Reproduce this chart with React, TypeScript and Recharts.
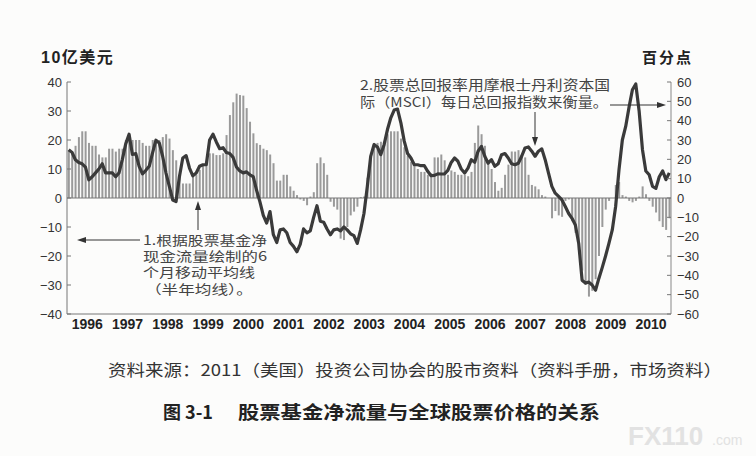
import React from 'react';
import { ComposedChart, Bar, Line, XAxis, YAxis, ReferenceLine } from 'recharts';

// 1996-01 .. 2010-12, one value per month
const years = [1996, 1997, 1998, 1999, 2000, 2001, 2002, 2003, 2004, 2005, 2006, 2007, 2008, 2009, 2010];

// equity fund net flows, 6-month moving average (10亿美元, left axis)
const fundFlows = [
  16.5, 16, 18, 21, 23, 23, 19, 18, 18, 15, 14, 14,
  17, 17, 16, 17, 17, 20, 20, 20, 20, 20, 19, 18,
  18, 20, 20, 20, 21, 22, 20.5, 16.5, 13, 8, 5, 5,
  5, 7.4, 8, 9.7, 11.4, 12, 15.4, 15.4, 14.8, 14.8, 15.4, 21.7,
  28.6, 33, 36, 35.5, 35.3, 31, 26.3, 22.3, 18.9, 18.3, 17, 16.5,
  15, 12, 6, 6, 8, 8, 4, 2.5, 1, -0.5, -1, -2.5,
  0.5, 2, 12, 14, 12, 8, -1.3, -3, -4, -14, -14.5, -10,
  -6, -4.7, -3, 0.3, 0.5, 7, 14, 19, 19, 19.4, 19.4, 22,
  23, 23, 23, 20.5, 17.5, 14.5, 12.5, 11, 10, 9, 9, 8,
  8.5, 14, 14, 15, 13, 8, 9.5, 9, 8, 8, 8, 7.5,
  9, 19, 25, 22, 18, 13, 10, 5.5, 2.5, 3.5, 8, 11.5,
  16, 16, 16.5, 15, 14, 8, 4.5, 4, 3, 1, 0.5, 0,
  -7, -4.5, -6, -6.5, -1, -0.5, -8, -12, -18, -25, -30, -34,
  -32, -28, -20, -10, -4, -1, 0, 4.5, 5.5, 1, 0.5, -1,
  -1.5, -1, 0.5, 4, 1.3, -1, -3, -5, -8, -10, -11, -7,
];

// MSCI total return, year over year (百分点, right axis)
const stockReturns = [
  25, 23.6, 19.8, 18.4, 17.7, 16, 9.4, 11, 13, 15, 17.7, 13,
  13, 13, 11, 13, 20, 28, 33, 22.5, 23, 16.4, 12.5, 14.3,
  16.4, 23.3, 29.9, 28.5, 21.6, 12.9, 6, -1, -1.8, 11, 20.7, 21.9,
  15.5, 11.5, 12.9, 16.4, 17.2, 17.2, 30, 33, 29, 25.5, 26, 23.5,
  23, 21, 16, 14, 13, 13.5, 12, 11, 4, -2, -9, -13,
  -7, -19, -23, -16.5, -16, -18, -23, -25, -27.8, -24, -16, -18,
  -17, -10, -4, -12, -12.5, -16, -19, -16.5, -16, -17, -15, -16.5,
  -18.5, -19.5, -23.5, -16.5, -8, 6, 21.5, 27.6, 26.4, 22.4, 27.6, 35.4,
  41.5, 45.5, 46, 38.9, 29.4, 23, 20.7, 17.2, 17.2, 16.7, 16.7, 13.8,
  11.5, 11.7, 12.5, 12.4, 12.5, 14.3, 18.4, 20.7, 19, 15, 12.9, 15.5,
  19.8, 18.5, 24.2, 26.7, 21.6, 18, 19.8, 16.4, 17.7, 22.4, 23, 20.7,
  17.7, 17.2, 18, 21.6, 25.9, 26.4, 24.2, 21.6, 24.2, 25.4, 19.8, 12.9,
  6, 2.5, 0.8, -1, -4.4, -8, -10.5, -14, -23.5, -42.5, -44, -43.5,
  -45, -47.7, -41.6, -36, -30, -23.5, -16.5, -4.4, 14.6, 30, 37, 47,
  56, 59, 45, 25, 14, 12, 6, 5, 11, 14, 9.5, 13,
];

const leftTicks = [-40, -30, -20, -10, 0, 10, 20, 30, 40];
const rightTicks = [-60, -50, -40, -30, -20, -10, 0, 10, 20, 30, 40, 50, 60];

const data = years.flatMap((y, yi) =>
  Array.from({ length: 12 }, (_, mi) => ({
    m: `${y}-${String(mi + 1).padStart(2, '0')}`,
    flow: fundFlows[yi * 12 + mi],
    ret: stockReturns[yi * 12 + mi],
  }))
);

const SANS = "'Liberation Sans', Arial, 'Noto Sans CJK SC', sans-serif";
const CJK = "'Noto Sans CJK SC', 'Liberation Sans', sans-serif";

const fmt = (v: number) => (v < 0 ? '\u2212' + Math.abs(v) : String(v));

function LeftTick({ x, y, payload }: any) {
  return (
    <g>
      <line x1={x} x2={x + 4} y1={y} y2={y} stroke="#777" />
      <text x={x - 5} y={y} dy={4.5} textAnchor="end" fontSize={13} fill="#333" fontFamily={SANS}>
        {fmt(payload.value)}
      </text>
    </g>
  );
}

function RightTick({ x, y, payload }: any) {
  return (
    <g>
      <line x1={x - 4} x2={x} y1={y} y2={y} stroke="#777" />
      <text x={x + 6} y={y} dy={4.5} textAnchor="start" fontSize={13} fill="#333" fontFamily={SANS}>
        {fmt(payload.value)}
      </text>
    </g>
  );
}

function YearTick({ x, y, payload }: any) {
  if (!String(payload.value).endsWith('-07')) return null;
  return (
    <text x={x - 1.5} y={y} dy={10} textAnchor="middle" fontSize={14} fontWeight="bold" fill="#222" fontFamily={SANS}>
      {String(payload.value).slice(0, 4)}
    </text>
  );
}

function Arrow({ x1, y1, x2, y2 }: { x1: number; y1: number; x2: number; y2: number }) {
  const a = Math.atan2(y2 - y1, x2 - x1);
  const len = 9;
  const w = 3;
  const bx = x2 - len * Math.cos(a);
  const by = y2 - len * Math.sin(a);
  const px = -Math.sin(a) * w;
  const py = Math.cos(a) * w;
  return (
    <g>
      <line x1={x1} y1={y1} x2={bx} y2={by} stroke="#333" strokeWidth={1} />
      <polygon points={`${x2},${y2} ${bx + px},${by + py} ${bx - px},${by - py}`} fill="#333" />
    </g>
  );
}

export default function App() {
  return (
    <div style={{ position: 'absolute', left: 0, top: 0, width: 756, height: 456, background: '#fcfcfb' }}>
      <ComposedChart
        width={756}
        height={456}
        data={data}
        margin={{ top: 82, right: 0, bottom: 112, left: 0 }}
        barCategoryGap="25%"
      >
        <XAxis
          dataKey="m"
          interval={0}
          tickLine={false}
          tickSize={0}
          tickMargin={5}
          height={30}
          axisLine={{ stroke: '#777' }}
          tick={<YearTick />}
        />
        <YAxis
          yAxisId="left"
          orientation="left"
          width={67}
          domain={[-40, 40]}
          ticks={leftTicks}
          interval={0}
          tickLine={false}
          tickSize={0}
          tickMargin={0}
          axisLine={{ stroke: '#777' }}
          tick={<LeftTick />}
        />
        <YAxis
          yAxisId="right"
          orientation="right"
          width={85}
          domain={[-60, 60]}
          ticks={rightTicks}
          interval={0}
          tickLine={false}
          tickSize={0}
          tickMargin={0}
          axisLine={{ stroke: '#888' }}
          tick={<RightTick />}
        />
        <ReferenceLine yAxisId="left" y={0} stroke="#777" />
        <Bar yAxisId="left" dataKey="flow" fill="#9a9a9a" isAnimationActive={false} />
        <Line
          yAxisId="right"
          dataKey="ret"
          type="linear"
          stroke="#3a3a3a"
          strokeWidth={3.2}
          strokeLinejoin="round"
          dot={false}
          activeDot={false}
          isAnimationActive={false}
        />
      </ComposedChart>

      <svg width={756} height={456} style={{ position: 'absolute', left: 0, top: 0, pointerEvents: 'none' }}>
        <text x={41} y={63} fontSize={16} fontWeight="bold" fill="#222" fontFamily={SANS} letterSpacing={1.5}>10亿美元</text>
        <text x={642} y={63} fontSize={15} fontWeight="bold" fill="#222" fontFamily={CJK} letterSpacing={2}>百分点</text>

        {/* note 2: return line, right axis */}
        <text fontFamily={CJK} fontSize={13.5} fill="#444">
          <tspan x={360} y={90} textLength={250} lengthAdjust="spacingAndGlyphs">2.股票总回报率用摩根士丹利资本国</tspan>
          <tspan x={360} y={107} textLength={248} lengthAdjust="spacingAndGlyphs">际（MSCI）每日总回报指数来衡量。</tspan>
        </text>
        {/* note 1: fund flow bars, left axis */}
        <text fontFamily={CJK} fontSize={12.8} fill="#444">
          <tspan x={143} y={245} textLength={124} lengthAdjust="spacingAndGlyphs">1.根据股票基金净</tspan>
          <tspan x={143} y={260.8} textLength={124} lengthAdjust="spacingAndGlyphs">现金流量绘制的6</tspan>
          <tspan x={143} y={276.6} textLength={112} lengthAdjust="spacingAndGlyphs">个月移动平均线</tspan>
          <tspan x={145} y={293.5} textLength={108} lengthAdjust="spacingAndGlyphs">（半年均线）。</tspan>
        </text>

        <Arrow x1={610} y1={105} x2={666} y2={105} />
        <Arrow x1={535} y1={112} x2={535} y2={146} />
        <Arrow x1={140} y1={240} x2={77} y2={240} />
        <Arrow x1={198} y1={230} x2={198} y2={201} />

        <text x={108} y={376} fontSize={16} fill="#333" fontFamily={CJK} textLength={614} lengthAdjust="spacingAndGlyphs">
          资料来源：2011（美国）投资公司协会的股市资料（资料手册，市场资料）
        </text>
        <text x={163} y={419} fontSize={18} fontWeight="bold" fill="#222" fontFamily={CJK}>图 3-1</text>
        <text x={238} y={419} fontSize={18} fontWeight="bold" fill="#222" fontFamily={CJK} textLength={362} lengthAdjust="spacingAndGlyphs">
          股票基金净流量与全球股票价格的关系
        </text>
        <text x={628} y={445} fontSize={26} fontWeight="bold" fill="#e2e2e2" fontFamily={SANS}>FX110</text>
        <text x={712} y={445} fontSize={14} fill="#e2e2e2" fontFamily={SANS}>.com</text>
      </svg>
    </div>
  );
}
